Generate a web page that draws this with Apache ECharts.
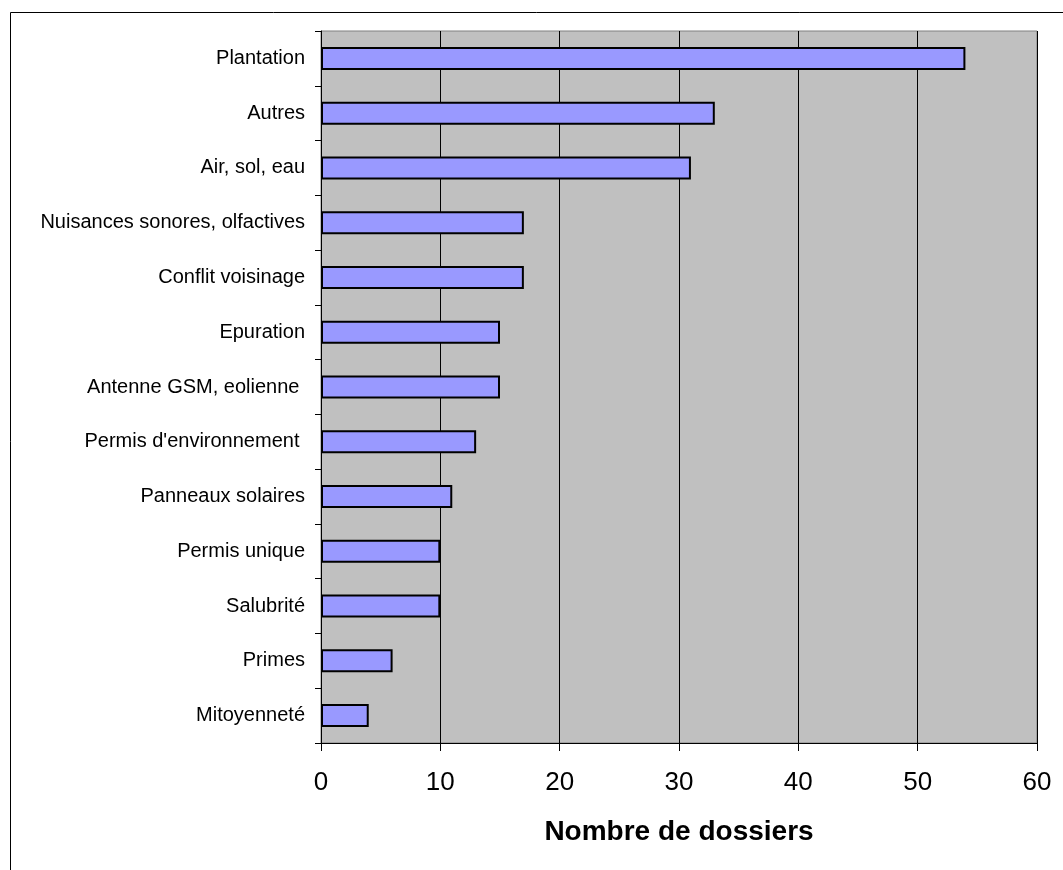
<!DOCTYPE html>
<html>
<head>
<meta charset="utf-8">
<script src="https://cdn.jsdelivr.net/npm/echarts@6/dist/echarts.min.js"></script>
<style>
  html, body { margin: 0; padding: 0; background: #fff; }
  #chart { width: 1063px; height: 870px; }
</style>
</head>
<body>
<div id="chart"></div>
<script>
var categories = [
  'Plantation', 'Autres', 'Air, sol, eau', 'Nuisances sonores, olfactives',
  'Conflit voisinage', 'Epuration', 'Antenne GSM, eolienne ', "Permis d'environnement ",
  'Panneaux solaires', 'Permis unique', 'Salubrité', 'Primes', 'Mitoyenneté'
];
var dossiers = [54, 33, 31, 17, 17, 15, 15, 13, 11, 10, 10, 6, 4];
var xTicks = { min: 0, max: 60, step: 10 };

var chart = echarts.init(document.getElementById('chart'));
chart.setOption({
  animation: false,
  textStyle: { fontFamily: 'Liberation Sans, Arial, sans-serif' },
  graphic: [{
    type: 'polyline',
    shape: { points: [[10.5, 870], [10.5, 12.5], [1063, 12.5]] },
    style: { stroke: '#000', lineWidth: 1, fill: null }
  }],
  grid: {
    left: 321, top: 31, width: 716, height: 712,
    show: true, backgroundColor: '#C0C0C0', borderColor: '#808080', borderWidth: 1
  },
  xAxis: {
    type: 'value',
    min: xTicks.min, max: xTicks.max, interval: xTicks.step,
    name: 'Nombre de dossiers',
    nameLocation: 'middle',
    nameGap: 75,
    nameTextStyle: { fontSize: 28, fontWeight: 'bold', color: '#000' },
    axisLine: { show: true, lineStyle: { color: '#000', width: 1 } },
    axisTick: { show: true, length: 8, lineStyle: { color: '#000' } },
    axisLabel: { fontSize: 26, color: '#000', margin: 27 },
    splitLine: { show: true, lineStyle: { color: '#000', width: 1 } }
  },
  yAxis: {
    type: 'category',
    inverse: true,
    data: categories,
    axisLine: { show: true, lineStyle: { color: '#000', width: 1 } },
    axisTick: { show: true, length: 6, lineStyle: { color: '#000' } },
    axisLabel: { fontSize: 20, color: '#000', margin: 16 },
    splitLine: { show: false }
  },
  series: [{
    type: 'bar',
    data: dossiers,
    barWidth: 23,
    itemStyle: { color: '#9999FF', borderColor: '#000', borderWidth: 2 }
  }]
});
</script>
</body>
</html>
